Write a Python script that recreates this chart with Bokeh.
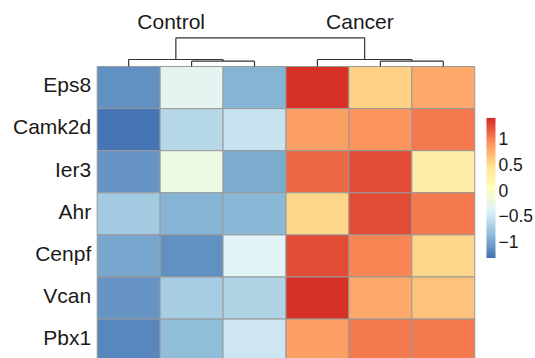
import numpy as np
from bokeh.plotting import figure
from bokeh.models import LinearColorMapper, Range1d, ColumnDataSource
from bokeh.transform import transform
from bokeh.core.properties import value
from bokeh.embed import file_html
from bokeh.resources import INLINE

# ---------------- data ----------------
genes = ["Eps8", "Camk2d", "Ier3", "Ahr", "Cenpf", "Vcan", "Pbx1"]
groups = ["Control", "Cancer"]
n_samples = 6

eps8   = [-1.15, -0.37, -0.94, 1.36, 0.56, 0.78]
camk2d = [-1.34, -0.67, -0.56, 0.83, 0.89, 1.02]
ier3   = [-1.13, -0.23, -1.00, 1.10, 1.24, 0.29]
ahr    = [-0.78, -0.94, -0.91, 0.53, 1.24, 1.02]
cenpf  = [-1.02, -1.16, -0.39, 1.22, 0.97, 0.53]
vcan   = [-1.13, -0.75, -0.70, 1.38, 0.78, 0.62]
pbx1   = [-1.21, -0.89, -0.53, 0.83, 1.02, 1.02]
rows = [eps8, camk2d, ier3, ahr, cenpf, vcan, pbx1]

# column dendrogram merges: (left node, right node, height above heatmap in row units)
col_merges = [(1, 2, 0.126), (4, 5, 0.126), (0, 6, 0.166), (3, 7, 0.166), (8, 9, 0.682)]
group_nodes = [8, 9]

cb_ticks = [1, 0.5, 0, -0.5, -1]
cb_labels = ["1", "0.5", "0", "\u22120.5", "\u22121"]

# ---------------- styling ----------------
FONT = "Liberation Sans"
TXT = "#1a1a1a"
base = ["#4575B4", "#91BFDB", "#E0F3F8", "#FFFFBF", "#FEE090", "#FC8D59", "#D73027"]


def hex2rgb(h):
    h = h.lstrip("#")
    return np.array([int(h[i:i + 2], 16) for i in (0, 2, 4)], dtype=float)


stops = np.array([hex2rgb(c) for c in base])
pos = np.linspace(0, 1, len(base))
palette = []
for t in np.linspace(0, 1, 100):
    rgb = [np.interp(t, pos, stops[:, k]) for k in range(3)]
    palette.append("#%02x%02x%02x" % tuple(int(round(v)) for v in rgb))

vals = np.array(rows)
low, high = float(vals.min()), float(vals.max())
mapper = LinearColorMapper(palette=palette, low=low, high=high)

p = figure(width=535, height=358, output_backend="svg", toolbar_location=None,
           x_range=Range1d(-1.5366, 6.9649), y_range=Range1d(6.9359, -1.5677),
           x_axis_location=None, y_axis_location=None, min_border=0,
           outline_line_color=None, background_fill_color="white")
p.grid.visible = False
p.extra_y_ranges = {"cb": Range1d(-3.2913, 3.6602)}

# heatmap cells
xs, ys, vs = [], [], []
for r, row in enumerate(rows):
    for c, v in enumerate(row):
        xs.append(c + 0.5)
        ys.append(r + 0.5)
        vs.append(v)
src = ColumnDataSource(dict(x=xs, y=ys, v=vs))
p.rect(x="x", y="y", width=1, height=1, source=src,
       fill_color=transform("v", mapper), line_color="#999999", line_width=1)

# row labels
p.text(x=[-0.095] * len(genes), y=[r + 0.5 - 2.7 / 42.1 for r in range(len(genes))],
       text=genes, text_align="right", text_baseline="alphabetic",
       text_font=value(FONT), text_font_size="21px", text_color=TXT)

# dendrogram
node_x = {i: i + 0.5 for i in range(n_samples)}
node_h = {i: 0.0 for i in range(n_samples)}
seg_x0, seg_y0, seg_x1, seg_y1 = [], [], [], []
nid = n_samples
for a, b, h in col_merges:
    for n in (a, b):
        seg_x0.append(node_x[n]); seg_y0.append(-node_h[n])
        seg_x1.append(node_x[n]); seg_y1.append(-h)
    seg_x0.append(node_x[a]); seg_y0.append(-h)
    seg_x1.append(node_x[b]); seg_y1.append(-h)
    node_x[nid] = (node_x[a] + node_x[b]) / 2
    node_h[nid] = h
    nid += 1
p.segment(x0=seg_x0, y0=seg_y0, x1=seg_x1, y1=seg_y1, line_color="#333333", line_width=1.2)

# group labels above clusters
p.text(x=[node_x[n] - 0.075 for n in group_nodes], y=[-1.069] * len(groups), text=groups,
       text_align="center", text_baseline="alphabetic",
       text_font=value(FONT), text_font_size="21px", text_color=TXT)

# colour bar
grad = np.linspace(low, high, 256).reshape(-1, 1)
p.image(image=[grad], x=6.186, y=low, dw=0.143, dh=high - low,
        color_mapper=mapper, y_range_name="cb")
p.text(x=[6.377] * len(cb_ticks), y=[t - 0.020 for t in cb_ticks], text=cb_labels,
       text_align="left", text_baseline="alphabetic", y_range_name="cb",
       text_font=value(FONT), text_font_size="17.5px", text_color=TXT)

open("out.html", "w").write(file_html(p, INLINE))
